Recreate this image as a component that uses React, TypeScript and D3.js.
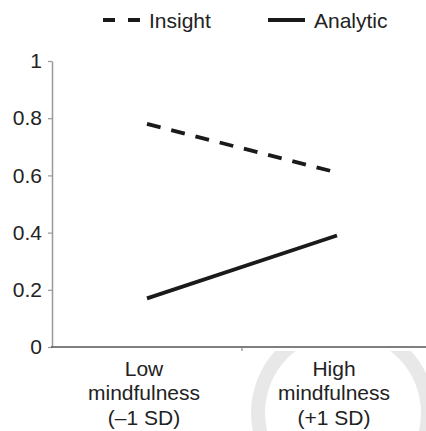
import React, { useEffect, useRef } from 'react';
import * as d3 from 'd3';

const categories = ['Low', 'High'];
const categoryLabels = [
  ['Low', 'mindfulness', '(–1 SD)'],
  ['High', 'mindfulness', '(+1 SD)'],
];
const seriesNames = ['Insight', 'Analytic'];
const insightValues = [0.78, 0.61];
const analyticValues = [0.17, 0.39];
const yTicks = [0, 0.2, 0.4, 0.6, 0.8, 1];

const W = 426;
const H = 431;
const FONT = 'Liberation Sans, Arial, Helvetica, sans-serif';

export default () => {
  const svgRef = useRef<SVGSVGElement>(null);

  useEffect(() => {
    if (!svgRef.current) return;
    const svg = d3.select(svgRef.current);
    svg.selectAll('*').remove();

    const x = d3.scaleBand().domain(categories).range([52, 432]);
    const y = d3.scaleLinear().domain([0, 1]).range([347, 61]);

    // faint watermark ring in the lower right
    svg.append('clipPath').attr('id', 'wm')
      .append('rect').attr('x', 0).attr('y', 351).attr('width', W).attr('height', H - 351);
    svg.append('circle')
      .attr('clip-path', 'url(#wm)')
      .attr('cx', 343).attr('cy', 413).attr('r', 85)
      .attr('fill', 'none').attr('stroke', '#e8e8e8').attr('stroke-width', 14);

    // y axis
    const yAxis = svg.append('g')
      .attr('transform', 'translate(52,0)')
      .call(d3.axisLeft(y).tickValues(yTicks).tickSize(4).tickSizeOuter(0).tickPadding(6)
        .tickFormat(d => d3.format('~g')(d as number)));
    yAxis.select('.domain').attr('stroke', '#999').attr('stroke-width', 1.5);
    yAxis.selectAll('.tick line').attr('stroke', '#999').attr('stroke-width', 1.2);
    yAxis.selectAll('.tick text')
      .attr('font-family', FONT).attr('font-size', 21).attr('fill', '#222');

    // x axis
    svg.append('line')
      .attr('x1', 51).attr('x2', W).attr('y1', y(0)).attr('y2', y(0))
      .attr('stroke', '#555').attr('stroke-width', 1.6);
    svg.append('line')
      .attr('x1', x('High')!).attr('x2', x('High')!)
      .attr('y1', y(0)).attr('y2', y(0) + 4)
      .attr('stroke', '#777').attr('stroke-width', 1);

    categoryLabels.forEach((lines, i) => {
      const cx = x(categories[i])! + x.bandwidth() / 2 - 3;
      const t = svg.append('text')
        .attr('text-anchor', 'middle')
        .attr('font-family', FONT).attr('font-size', 21).attr('fill', '#222');
      lines.forEach((s, j) => {
        t.append('tspan').attr('x', cx).attr('y', 375.5 + j * 24.5).text(s);
      });
    });

    // series lines
    const line = d3.line<number>()
      .x((_, i) => x(categories[i])! + x.bandwidth() / 2)
      .y(d => y(d));

    svg.append('path').datum(insightValues)
      .attr('d', line).attr('fill', 'none')
      .attr('stroke', '#1a1a1a').attr('stroke-width', 3.8)
      .attr('stroke-dasharray', '14,11');
    svg.append('path').datum(analyticValues)
      .attr('d', line).attr('fill', 'none')
      .attr('stroke', '#1a1a1a').attr('stroke-width', 3.8);

    // legend
    const legend = [
      { name: seriesNames[0], x0: 103, dash: '12,13' },
      { name: seriesNames[1], x0: 268, dash: null },
    ];
    legend.forEach(l => {
      const ln = svg.append('line')
        .attr('x1', l.x0).attr('x2', l.x0 + 37).attr('y1', 20).attr('y2', 20)
        .attr('stroke', '#1a1a1a').attr('stroke-width', 3.8);
      if (l.dash) ln.attr('stroke-dasharray', l.dash);
      svg.append('text')
        .attr('x', l.x0 + 46).attr('y', 27.5)
        .attr('font-family', FONT).attr('font-size', 21).attr('fill', '#222')
        .text(l.name);
    });
  }, []);

  return (
    <svg ref={svgRef} width={W} height={H}
      style={{ position: 'absolute', left: 0, top: 0, background: '#fff' }} />
  );
}
